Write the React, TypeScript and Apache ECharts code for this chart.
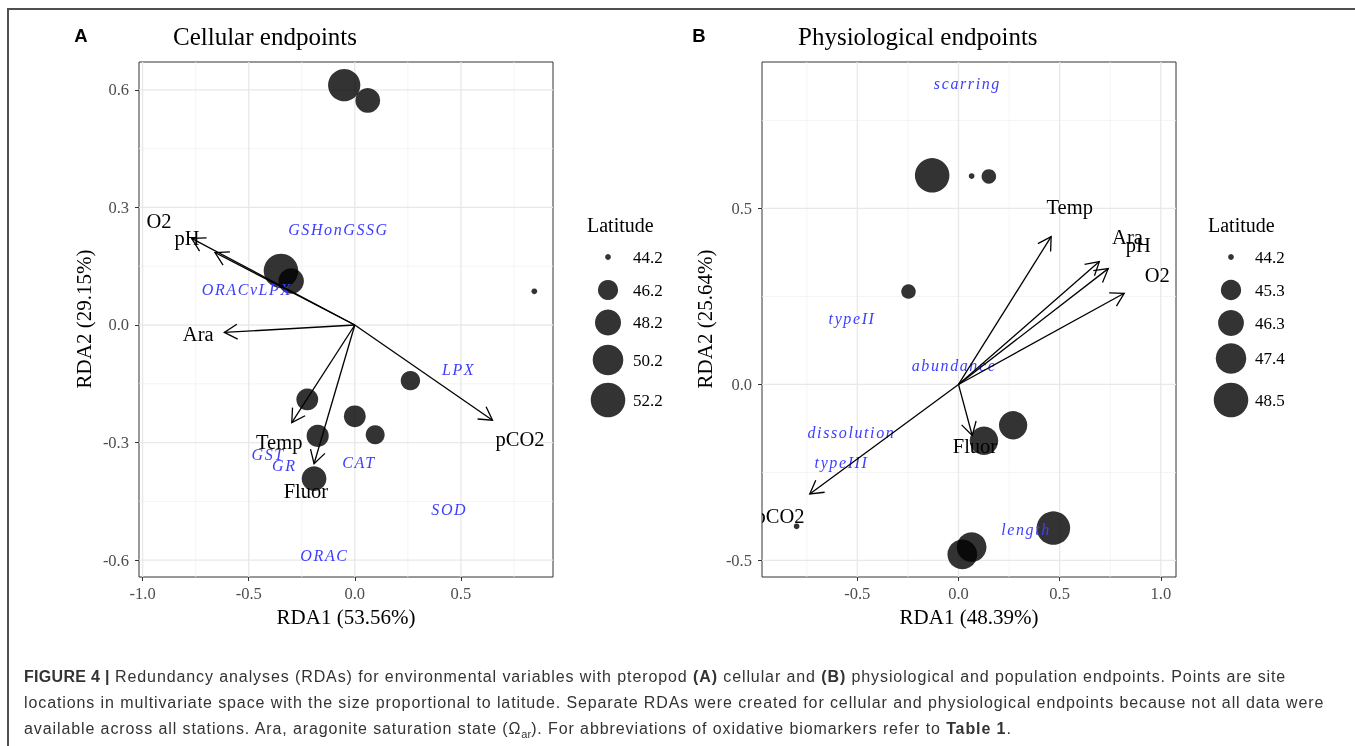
import React, { useEffect, useRef } from "react";
import * as echarts from "echarts";

const SERIF = '"Liberation Serif", "Times New Roman", serif';
const SANS = '"Liberation Sans", Arial, sans-serif';
const BLUE = "#3d3dff";
const POINT_COLOR = "rgba(0,0,0,0.8)";
const LABEL_SCALE = 1.2;

// ---------- Panel A: Cellular endpoints ----------
// [RDA1, RDA2, latitude]
const A_SITES: [number, number, number][] = [
  [-0.05, 0.612, 51.0],
  [0.061, 0.573, 47.7],
  [-0.348, 0.138, 52.2],
  [-0.3, 0.112, 48.0],
  [0.846, 0.086, 44.2],
  [0.262, -0.142, 46.0],
  [-0.224, -0.19, 46.7],
  [0.0, -0.233, 46.7],
  [0.096, -0.28, 45.9],
  [-0.175, -0.283, 46.8],
  [-0.192, -0.392, 47.7],
];
const A_ENV_NAMES = ["O2", "pH", "Ara", "Temp", "Fluor", "pCO2"];
const A_ENV_X = [-0.769, -0.659, -0.615, -0.297, -0.192, 0.649];
const A_ENV_Y = [0.221, 0.185, -0.019, -0.249, -0.354, -0.243];
const A_RESP_NAMES = ["GSHonGSSG", "ORACvLPX", "LPX", "GST", "GR", "CAT", "SOD", "ORAC"];
const A_RESP_X = [-0.077, -0.509, 0.489, -0.408, -0.332, 0.02, 0.445, -0.143];
const A_RESP_Y = [0.244, 0.09, -0.113, -0.33, -0.358, -0.351, -0.471, -0.588];
const A_LEGEND_BREAKS = [44.2, 46.2, 48.2, 50.2, 52.2];
const A_LAT_RANGE = [44.2, 52.2];
const A_X_MAJOR = [-1.0, -0.5, 0.0, 0.5];
const A_X_MINOR = [-0.75, -0.25, 0.25, 0.75];
const A_Y_MAJOR = [-0.6, -0.3, 0.0, 0.3, 0.6];
const A_Y_MINOR = [-0.45, -0.15, 0.15, 0.45];
const A_X_RANGE = [-1.017, 0.934];
const A_Y_RANGE = [-0.643, 0.671];

// ---------- Panel B: Physiological endpoints ----------
const B_SITES: [number, number, number][] = [
  [-0.13, 0.594, 48.5],
  [0.065, 0.592, 44.2],
  [0.15, 0.591, 44.6],
  [-0.247, 0.264, 44.6],
  [0.27, -0.116, 46.85],
  [0.126, -0.16, 46.9],
  [0.469, -0.408, 48.2],
  [0.065, -0.462, 47.2],
  [0.019, -0.483, 47.2],
  [-0.8, -0.403, 44.2],
];
const B_ENV_NAMES = ["Temp", "Ara", "pH", "O2", "Fluor", "pCO2"];
const B_ENV_X = [0.458, 0.696, 0.74, 0.819, 0.068, -0.735];
const B_ENV_Y = [0.42, 0.349, 0.329, 0.259, -0.145, -0.311];
const B_RESP_NAMES = ["scarring", "typeII", "abundance", "dissolution", "typeIII", "length"];
const B_RESP_X = [0.044, -0.526, -0.022, -0.529, -0.578, 0.334];
const B_RESP_Y = [0.854, 0.187, 0.054, -0.136, -0.221, -0.413];
const B_LEGEND_BREAKS = [44.2, 45.3, 46.3, 47.4, 48.5];
const B_LAT_RANGE = [44.2, 48.5];
const B_X_MAJOR = [-0.5, 0.0, 0.5, 1.0];
const B_X_MINOR = [-0.75, -0.25, 0.25, 0.75];
const B_Y_MAJOR = [-0.5, 0.0, 0.5];
const B_Y_MINOR = [-0.25, 0.25, 0.75];
const B_X_RANGE = [-0.971, 1.075];
const B_Y_RANGE = [-0.547, 0.916];

// ggplot-like area size scale (range 1..6)
const SIZE_K = 5.75;
function latSize(lat: number, range: number[]) {
  const t = Math.max(0, Math.min(1, (lat - range[0]) / (range[1] - range[0])));
  return SIZE_K * (1 + 5 * Math.sqrt(t));
}

function gridLineSeries(idx: number, xMaj: number[], xMin: number[], yMaj: number[], yMin: number[]) {
  const lines: { dir: string; v: number; major: boolean }[] = [];
  xMin.forEach((v) => lines.push({ dir: "x", v, major: false }));
  yMin.forEach((v) => lines.push({ dir: "y", v, major: false }));
  xMaj.forEach((v) => lines.push({ dir: "x", v, major: true }));
  yMaj.forEach((v) => lines.push({ dir: "y", v, major: true }));
  return {
    type: "custom",
    xAxisIndex: idx,
    yAxisIndex: idx,
    silent: true,
    z: 1,
    clip: true,
    data: lines.map((l) => (l.dir === "x" ? [l.v, 0] : [0, l.v])),
    renderItem: (params: any, api: any) => {
      const l = lines[params.dataIndex];
      const cs = params.coordSys;
      const p = api.coord([l.dir === "x" ? l.v : 0, l.dir === "y" ? l.v : 0]);
      const shape =
        l.dir === "x"
          ? { x1: p[0], y1: cs.y, x2: p[0], y2: cs.y + cs.height }
          : { x1: cs.x, y1: p[1], x2: cs.x + cs.width, y2: p[1] };
      return {
        type: "line",
        shape,
        style: { stroke: l.major ? "#e8e8e8" : "#f1f1f1", lineWidth: l.major ? 1.3 : 0.8 },
      };
    },
  };
}

function siteSeries(idx: number, sites: [number, number, number][], range: number[]) {
  return {
    type: "scatter",
    xAxisIndex: idx,
    yAxisIndex: idx,
    z: 3,
    data: sites,
    symbol: "circle",
    symbolSize: (val: number[]) => latSize(val[2], range),
    itemStyle: { color: "#000", opacity: 0.8, borderWidth: 0 },
    emphasis: { disabled: true },
  };
}

function respSeries(idx: number, names: string[], xs: number[], ys: number[]) {
  return {
    type: "custom",
    xAxisIndex: idx,
    yAxisIndex: idx,
    z: 4,
    clip: true,
    data: xs.map((x, i) => [x, ys[i]]),
    renderItem: (params: any, api: any) => {
      const p = api.coord([api.value(0), api.value(1)]);
      return {
        type: "text",
        x: p[0],
        y: p[1],
        style: {
          text: names[params.dataIndex],
          fill: BLUE,
          fontSize: 16,
          fontStyle: "italic",
          fontFamily: SERIF,
          align: "center",
          verticalAlign: "middle",
        },
      };
    },
  };
}

function envSeries(idx: number, names: string[], xs: number[], ys: number[]) {
  return {
    type: "custom",
    xAxisIndex: idx,
    yAxisIndex: idx,
    z: 5,
    clip: true,
    data: xs.map((x, i) => [x, ys[i]]),
    renderItem: (params: any, api: any) => {
      const vx = api.value(0);
      const vy = api.value(1);
      const o = api.coord([0, 0]);
      const t = api.coord([vx, vy]);
      const l = api.coord([vx * LABEL_SCALE, vy * LABEL_SCALE]);
      const ang = Math.atan2(t[1] - o[1], t[0] - o[0]);
      const HL = 15;
      const HA = Math.PI / 6;
      const p1 = [t[0] - HL * Math.cos(ang - HA), t[1] - HL * Math.sin(ang - HA)];
      const p2 = [t[0] - HL * Math.cos(ang + HA), t[1] - HL * Math.sin(ang + HA)];
      return {
        type: "group",
        children: [
          {
            type: "line",
            shape: { x1: o[0], y1: o[1], x2: t[0], y2: t[1] },
            style: { stroke: "#000", lineWidth: 1.3 },
          },
          {
            type: "polyline",
            shape: { points: [p1, t, p2] },
            style: { stroke: "#000", lineWidth: 1.3, fill: null },
          },
          {
            type: "text",
            x: l[0],
            y: l[1],
            style: {
              text: names[params.dataIndex],
              fill: "#000",
              fontSize: 20.5,
              fontFamily: SERIF,
              align: "center",
              verticalAlign: "middle",
            },
          },
        ],
      };
    },
  };
}

function axisPair(idx: number, xr: number[], yr: number[], xMaj: number[], yMaj: number[]) {
  const common = {
    type: "value",
    gridIndex: idx,
    axisLine: { show: false, onZero: false },
    axisTick: { show: true, length: 4, lineStyle: { color: "#333", width: 1 } },
    splitLine: { show: false },
    minorSplitLine: { show: false },
  };
  const labelStyle = {
    color: "#4d4d4d",
    fontSize: 16.5,
    fontFamily: SERIF,
    formatter: (v: number) => v.toFixed(1),
    showMinLabel: true,
    showMaxLabel: true,
  };
  return {
    x: {
      ...common,
      position: "bottom",
      min: xr[0],
      max: xr[1],
      axisTick: { ...common.axisTick, customValues: xMaj },
      axisLabel: { ...labelStyle, margin: 8, customValues: xMaj },
    },
    y: {
      ...common,
      position: "left",
      min: yr[0],
      max: yr[1],
      axisTick: { ...common.axisTick, customValues: yMaj },
      axisLabel: { ...labelStyle, margin: 10, customValues: yMaj },
    },
  };
}

function legendGraphics(title: string, breaks: number[], range: number[], tx: number, cx: number, lx: number, rows: number[]) {
  const els: any[] = [
    {
      type: "text",
      x: tx,
      y: 225,
      style: { text: title, fill: "#000", fontSize: 20, fontFamily: SERIF, align: "left", verticalAlign: "middle" },
    },
  ];
  breaks.forEach((b, i) => {
    els.push({
      type: "circle",
      shape: { cx, cy: rows[i], r: latSize(b, range) / 2 },
      style: { fill: POINT_COLOR },
    });
    els.push({
      type: "text",
      x: lx,
      y: rows[i],
      style: { text: b.toFixed(1), fill: "#000", fontSize: 17, fontFamily: SERIF, align: "left", verticalAlign: "middle" },
    });
  });
  return els;
}

function txt(text: string, x: number, y: number, size: number, opts: any = {}) {
  return {
    type: "text",
    x,
    y,
    rotation: opts.rotation || 0,
    style: {
      text,
      fill: opts.fill || "#000",
      fontSize: size,
      fontFamily: opts.family || SERIF,
      fontWeight: opts.weight || "normal",
      align: opts.align || "center",
      verticalAlign: "middle",
    },
  };
}

export default function App() {
  const ref = useRef<HTMLDivElement>(null);

  useEffect(() => {
    if (!ref.current) return;
    const chart = echarts.init(ref.current, undefined, { renderer: "svg" });
    const axA = axisPair(0, A_X_RANGE, A_Y_RANGE, A_X_MAJOR, A_Y_MAJOR);
    const axB = axisPair(1, B_X_RANGE, B_Y_RANGE, B_X_MAJOR, B_Y_MAJOR);
    const gridStyle = { show: true, borderColor: "#333", borderWidth: 1, backgroundColor: "transparent" };
    chart.setOption({
      animation: false,
      grid: [
        { ...gridStyle, left: 139, top: 62, width: 414, height: 515 },
        { ...gridStyle, left: 762, top: 62, width: 414, height: 515 },
      ],
      xAxis: [axA.x, axB.x],
      yAxis: [axA.y, axB.y],
      series: [
        gridLineSeries(0, A_X_MAJOR, A_X_MINOR, A_Y_MAJOR, A_Y_MINOR),
        gridLineSeries(1, B_X_MAJOR, B_X_MINOR, B_Y_MAJOR, B_Y_MINOR),
        siteSeries(0, A_SITES, A_LAT_RANGE),
        siteSeries(1, B_SITES, B_LAT_RANGE),
        respSeries(0, A_RESP_NAMES, A_RESP_X, A_RESP_Y),
        respSeries(1, B_RESP_NAMES, B_RESP_X, B_RESP_Y),
        envSeries(0, A_ENV_NAMES, A_ENV_X, A_ENV_Y),
        envSeries(1, B_ENV_NAMES, B_ENV_X, B_ENV_Y),
      ],
      graphic: [
        txt("A", 81, 35, 18.5, { family: SANS, weight: "bold" }),
        txt("B", 699, 35, 18.5, { family: SANS, weight: "bold" }),
        txt("Cellular endpoints", 173, 36, 25, { align: "left" }),
        txt("Physiological endpoints", 798, 36, 25, { align: "left" }),
        txt("RDA1 (53.56%)", 346, 617, 21),
        txt("RDA1 (48.39%)", 969, 617, 21),
        txt("RDA2 (29.15%)", 84, 319, 21, { rotation: Math.PI / 2 }),
        txt("RDA2 (25.64%)", 705, 319, 21, { rotation: Math.PI / 2 }),
        ...legendGraphics("Latitude", A_LEGEND_BREAKS, A_LAT_RANGE, 587, 608, 633, [257, 290, 322.5, 360, 400]),
        ...legendGraphics("Latitude", B_LEGEND_BREAKS, B_LAT_RANGE, 1208, 1231, 1255, [257, 290, 323, 358.5, 400]),
      ],
    });
    const applySpacing = () => {
      const root = ref.current;
      if (!root) return;
      root.querySelectorAll("text").forEach((t) => {
        const f = (t.getAttribute("fill") || "").toLowerCase();
        const st = (t.getAttribute("style") || "").toLowerCase();
        if (f.includes("3d3dff") || st.includes("3d3dff") || f.includes("61,61,255")) {
          t.setAttribute("letter-spacing", "1.6");
        }
      });
    };
    chart.on("finished", applySpacing);
    applySpacing();
    return () => chart.dispose();
  }, []);

  const subStyle: React.CSSProperties = { fontSize: 11, verticalAlign: "-4px", lineHeight: 0, letterSpacing: 0 };

  return (
    <div>
      <div
        style={{
          position: "fixed",
          left: 7,
          top: 8,
          width: 1348,
          height: 738,
          borderTop: "2px solid #505050",
          borderLeft: "2px solid #505050",
          boxSizing: "border-box",
        }}
      />
      <div ref={ref} style={{ position: "fixed", left: 0, top: 0, width: 1355, height: 640 }} />
      <div
        style={{
          position: "fixed",
          left: 24,
          top: 664,
          fontFamily: SANS,
          fontSize: 16,
          letterSpacing: "0.9px",
          lineHeight: "26px",
          color: "#333",
          whiteSpace: "nowrap",
        }}
      >
        <b style={{ letterSpacing: "0.3px" }}>FIGURE 4 |</b> Redundancy analyses (RDAs) for environmental variables
        with pteropod <b>(A)</b> cellular and <b>(B)</b> physiological and population endpoints. Points are site
        <br />
        locations in multivariate space with the size proportional to latitude. Separate RDAs were created for cellular
        and physiological endpoints because not all data were
        <br />
        available across all stations. Ara, aragonite saturation state (Ω<span style={subStyle}>ar</span>). For
        abbreviations of oxidative biomarkers refer to <b>Table 1</b>.
      </div>
    </div>
  );
}
